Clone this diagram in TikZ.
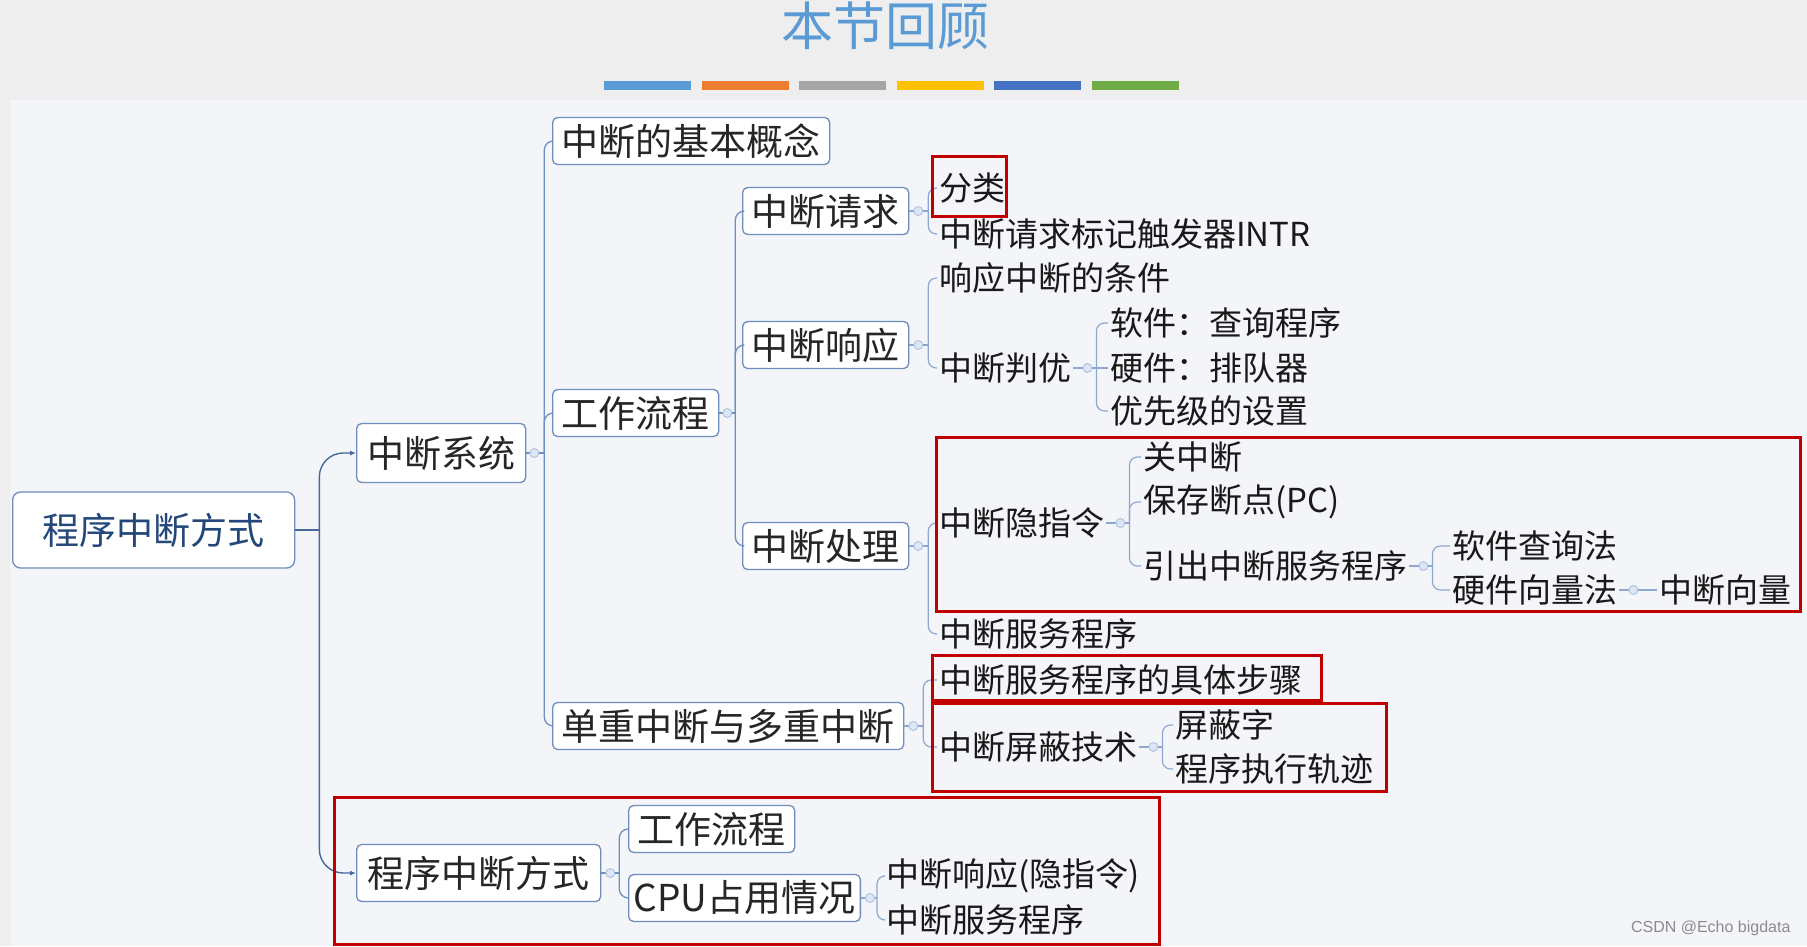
\documentclass[tikz,border=0pt]{standalone}
\usepackage{fontspec}
\setmainfont{Noto Sans CJK SC}
\newfontfamily\marksans{Liberation Sans}
\usepackage{xcolor}
\usetikzlibrary{arrows.meta}

\definecolor{pagegray}{HTML}{EEEEEF}
\definecolor{panelbg}{HTML}{F3F5F9}
\definecolor{titleblue}{HTML}{5B9BD5}
\definecolor{boxline}{HTML}{6F8DBB}
\definecolor{rootblue}{HTML}{24477A}
\definecolor{stemblue}{HTML}{48689A}
\definecolor{branchblue}{HTML}{6F8FC0}
\definecolor{twigblue}{HTML}{8DA7CF}
\definecolor{knobline}{HTML}{A8BEDF}
\definecolor{knobfill}{HTML}{DCE6F4}
\definecolor{hired}{HTML}{C00000}
\definecolor{barA}{HTML}{5B9BD5}
\definecolor{barB}{HTML}{ED7D31}
\definecolor{barC}{HTML}{A5A5A5}
\definecolor{barD}{HTML}{FFC000}
\definecolor{barE}{HTML}{4472C4}
\definecolor{barF}{HTML}{70AD47}

\begin{document}
\begin{tikzpicture}[
        x=1pt, y=-1pt,
        >={Latex[length=6pt, width=5pt]},
        box/.style={draw=boxline, fill=white, line width=1.3pt, rounded corners=5pt, anchor=west,
            inner xsep=9pt, inner ysep=0pt, minimum height=47pt, text=black!85,
            font=\fontsize{37}{40}\selectfont},
        leaf/.style={anchor=west, inner xsep=2pt, inner ysep=1pt, text=black!90,
            font=\fontsize{33}{36}\selectfont},
        knob/.style={circle, draw=knobline, fill=knobfill, line width=0.8pt, inner sep=0pt, minimum size=9pt},
        stem/.style={draw=stemblue, line width=1.4pt, rounded corners=24pt},
        branch/.style={draw=branchblue, line width=1.3pt, rounded corners=9pt},
        twig/.style={draw=twigblue, line width=1.2pt, rounded corners=8pt},
        hilite/.style={draw=hired, line width=3pt}
    ]

        \useasboundingbox (0,0) rectangle (1807,946);
        \fill[pagegray] (0,0) rectangle (1807,946);
        \fill[panelbg] (10,100) rectangle (1807,946);

        \node[text=titleblue, font=\fontsize{52}{54}\selectfont] (title) at (885,26) {本节回顾};
        \foreach \c [count=\i from 0] in {barA, barB, barC, barD, barE, barF}
            \fill[\c] (604+\i*97.5, 81) rectangle ++(87, 9);

        \node[box, minimum width=282pt, minimum height=76pt, rounded corners=8pt, text=rootblue] (root) at (12,530) {程序中断方式};

        \node[box, minimum width=169pt, minimum height=59pt] (sys) at (356,453) {中断系统};
        \node[box, minimum width=244pt, minimum height=57pt] (prog) at (356,873) {程序中断方式};

        \node[box] (concept) at (552,141) {中断的基本概念};
        \node[box] (flow) at (552,413) {工作流程};
        \node[box] (single) at (552,726) {单重中断与多重中断};

        \node[box] (req) at (742,211) {中断请求};
        \node[box] (resp) at (742,345) {中断响应};
        \node[box] (handle) at (742,546) {中断处理};

        \node[box] (pflow) at (628,829) {工作流程};
        \node[box, inner xsep=5pt] (cpu) at (628,898) {CPU占用情况};

        \node[leaf] (cls) at (937,188) {分类};
        \node[leaf] (intr) at (937,234) {中断请求标记触发器INTR};
        \node[leaf] (cond) at (937,278) {响应中断的条件};
        \node[leaf] (judge) at (937,368) {中断判优};
        \node[leaf] (soft) at (1108,323) {软件：查询程序};
        \node[leaf] (hard) at (1108,368) {硬件：排队器};
        \node[leaf] (prio) at (1108,411) {优先级的设置};

        \node[leaf] (hidden) at (937,523) {中断隐指令};
        \node[leaf] (cli) at (1141,457) {关中断};
        \node[leaf] (savepc) at (1141,502) {保存断点(PC)};
        \node[leaf] (entry) at (1141,566) {引出中断服务程序};
        \node[leaf] (swq) at (1450,546) {软件查询法};
        \node[leaf] (hwv) at (1450,590) {硬件向量法};
        \node[leaf] (vec) at (1657,590) {中断向量};
        \node[leaf] (isr) at (937,634) {中断服务程序};

        \node[leaf] (steps) at (937,680) {中断服务程序的具体步骤};
        \node[leaf] (mask) at (937,747) {中断屏蔽技术};
        \node[leaf] (maskword) at (1173,725) {屏蔽字};
        \node[leaf] (trace) at (1173,769) {程序执行轨迹};

        \node[leaf] (cresp) at (884,876) {中断响应(隐指令)};
        \node[leaf] (cisr) at (884,920) {中断服务程序};

        \node[anchor=east, text=black!45, font=\marksans\fontsize{16}{18}\selectfont] (mark) at (1794,928) {CSDN @Echo bigdata};

        \coordinate (jroot) at ([xshift=24pt]root.east);
        \coordinate (jsys) at ([xshift=18pt]sys.east);
        \coordinate (jflow) at ([xshift=16pt]flow.east);
        \coordinate (jreq) at ([xshift=19pt]req.east);
        \coordinate (jresp) at ([xshift=19pt]resp.east);
        \coordinate (jhandle) at ([xshift=19pt]handle.east);
        \coordinate (jsingle) at ([xshift=19pt]single.east);
        \coordinate (jprog) at ([xshift=18pt]prog.east);
        \coordinate (jcpu) at ([xshift=16pt]cpu.east);
        \coordinate (jjudge) at ([xshift=23pt]judge.east);
        \coordinate (jhidden) at ([xshift=23pt]hidden.east);
        \coordinate (jentry) at ([xshift=23pt]entry.east);
        \coordinate (jmask) at ([xshift=23pt]mask.east);

        \draw[stem] (root.east) -- (jroot);
        \draw[stem, ->] (jroot) |- (sys.west);
        \draw[stem, ->] (jroot) |- (prog.west);

        \draw[branch] (sys.east) -- (jsys);
        \draw[branch] (jsys) |- (concept.west);
        \draw[branch] (jsys) |- (flow.west);
        \draw[branch] (jsys) |- (single.west);

        \draw[branch] (flow.east) -- (jflow);
        \draw[branch] (jflow) |- (req.west);
        \draw[branch] (jflow) |- (resp.west);
        \draw[branch] (jflow) |- (handle.west);

        \draw[twig] (req.east) -- (jreq);
        \draw[twig] (jreq) |- (cls.west);
        \draw[twig] (jreq) |- (intr.west);

        \draw[twig] (resp.east) -- (jresp);
        \draw[twig] (jresp) |- (cond.west);
        \draw[twig] (jresp) |- (judge.west);

        \draw[twig] (judge.east) -- (hard.west);
        \draw[twig] (jjudge) |- (soft.west);
        \draw[twig] (jjudge) |- (prio.west);

        \draw[twig] (handle.east) -- (jhandle);
        \draw[twig] (jhandle) |- (hidden.west);
        \draw[twig] (jhandle) |- (isr.west);

        \draw[twig] (hidden.east) -- (jhidden);
        \draw[twig] (jhidden) |- (cli.west);
        \draw[twig] (jhidden) |- (savepc.west);
        \draw[twig] (jhidden) |- (entry.west);

        \draw[twig] (entry.east) -- (jentry);
        \draw[twig] (jentry) |- (swq.west);
        \draw[twig] (jentry) |- (hwv.west);
        \draw[twig] (hwv.east) -- (vec.west);

        \draw[twig] (single.east) -- (jsingle);
        \draw[twig] (jsingle) |- (steps.west);
        \draw[twig] (jsingle) |- (mask.west);

        \draw[twig] (mask.east) -- (jmask);
        \draw[twig] (jmask) |- (maskword.west);
        \draw[twig] (jmask) |- (trace.west);

        \draw[branch] (prog.east) -- (jprog);
        \draw[branch] (jprog) |- (pflow.west);
        \draw[branch] (jprog) |- (cpu.west);

        \draw[twig] (cpu.east) -- (jcpu);
        \draw[twig] (jcpu) |- (cresp.west);
        \draw[twig] (jcpu) |- (cisr.west);

        \node[knob] (ksys) at ([xshift=8pt]sys.east) {};
        \node[knob] (kflow) at ([xshift=8pt]flow.east) {};
        \node[knob] (kreq) at ([xshift=9pt]req.east) {};
        \node[knob] (kresp) at ([xshift=9pt]resp.east) {};
        \node[knob] (khandle) at ([xshift=9pt]handle.east) {};
        \node[knob] (ksingle) at ([xshift=9pt]single.east) {};
        \node[knob] (kprog) at ([xshift=9pt]prog.east) {};
        \node[knob] (kcpu) at ([xshift=9pt]cpu.east) {};
        \node[knob] (kjudge) at ([xshift=14pt]judge.east) {};
        \node[knob] (khidden) at ([xshift=14pt]hidden.east) {};
        \node[knob] (kentry) at ([xshift=14pt]entry.east) {};
        \node[knob] (khwv) at ([xshift=14pt]hwv.east) {};
        \node[knob] (kmask) at ([xshift=14pt]mask.east) {};

        \draw[hilite] (932,156) rectangle (1006,216);
        \draw[hilite] (936,437) rectangle (1800,611);
        \draw[hilite] (932,655) rectangle (1321,700);
        \draw[hilite] (932,703) rectangle (1386,791);
        \draw[hilite] (334,797) rectangle (1159,944);

    \end{tikzpicture}
\end{document}
